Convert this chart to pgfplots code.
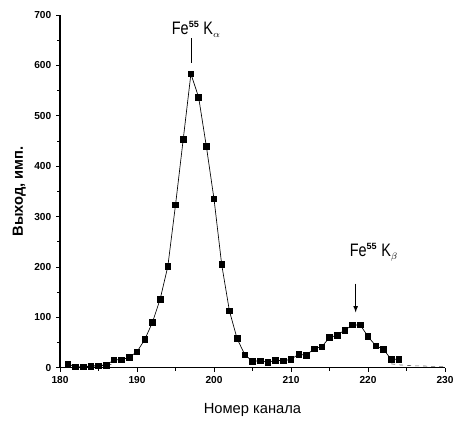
\documentclass[border=0pt]{standalone}
\usepackage{fontspec}
\setmainfont{Liberation Sans}
\newfontfamily\narrowfont[FakeStretch=0.8]{Liberation Sans}
\usepackage{pgfplots}
\pgfplotsset{compat=1.18}

\begin{document}
\begin{tikzpicture}
\begin{axis}[
  scale only axis,
  width=288pt, height=264pt,
  xmin=180, xmax=230, ymin=0, ymax=700,
  axis lines=left, axis line style={-, line width=0.9pt},
  xtick={180,190,...,230}, ytick={0,100,...,700},
  minor x tick num=1, minor y tick num=1,
  tick align=outside, major tick length=3pt, minor tick length=2pt,
  tick style={black, line width=0.6pt},
  /pgf/number format/assume math mode=true,
  tick label style={font=\fontsize{7.6}{9}\selectfont\bfseries},
  xlabel={Номер канала},
  ylabel={\bfseries Выход, имп.},
  label style={font=\fontsize{11}{12}\selectfont},
  xlabel style={at={(axis description cs:0.5,-0.118)}, anchor=center},
  ylabel style={at={(axis description cs:-0.106,0.5)}, anchor=center},
  clip=false,
]
\addplot[black!60, dashed, line width=0.5pt] coordinates {
  (182,2) (183,3) (184,4) (185,5) (186,6) (187,7)
};
\addplot[black!60, dashed, line width=0.5pt] coordinates {
  (223,8) (224,6) (225,5) (226,4) (227,4) (228,3) (229,3) (230,3)
};
\addplot[black, line width=0.5pt, mark=square*, mark size=2.1pt,
  mark options={solid, fill=black}] coordinates {
  (181,8) (182,2) (183,2) (184,3) (185,4) (186,5)
  (187,16) (188,16) (189,21) (190,32) (191,56) (192,90) (193,136)
  (194,201) (195,323) (196,453) (197,583) (198,537) (199,440)
  (200,335) (201,205) (202,113) (203,58) (204,26) (205,13)
  (206,14) (207,11) (208,15) (209,14) (210,17) (211,27) (212,25)
  (213,38) (214,42) (215,60) (216,65) (217,75) (218,85) (219,85)
  (220,62) (221,44) (222,37) (223,17) (224,17)
};
\draw[line width=0.6pt] (axis cs:197,654) -- (axis cs:197,605);
\node[anchor=base west, font=\narrowfont\fontsize{13.5}{14}\selectfont, inner sep=0pt]
  at (axis cs:194.5,662) {Fe$^{\scriptscriptstyle\mathbf{55}}$ K$_{\scriptscriptstyle\alpha}$};
\draw[line width=0.6pt, -latex] (axis cs:218.4,167) -- (axis cs:218.4,110);
\node[anchor=base west, font=\narrowfont\fontsize{13.5}{14}\selectfont, inner sep=0pt]
  at (axis cs:217.6,220) {Fe$^{\scriptscriptstyle\mathbf{55}}$ K$_{\scriptscriptstyle\beta}$};
\end{axis}
\pgfresetboundingbox
\path ([xshift=-44.9pt, yshift=-41.9pt]current axis.south west)
  rectangle ([xshift=6pt, yshift=11.2pt]current axis.north east);
\end{tikzpicture}
\end{document}
